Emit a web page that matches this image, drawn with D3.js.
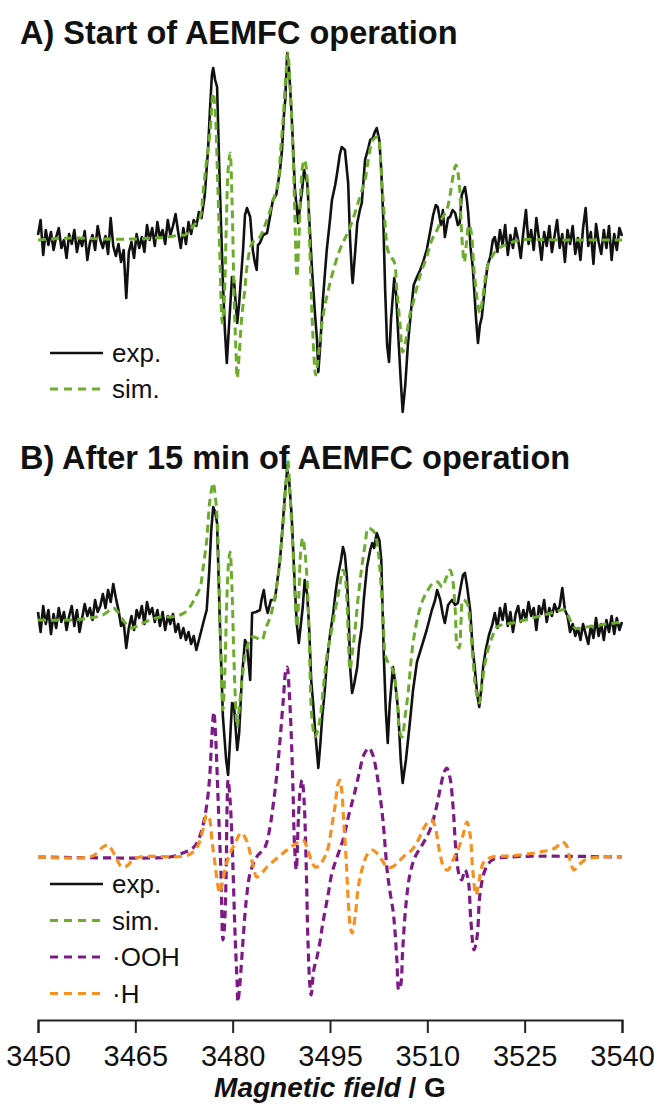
<!DOCTYPE html>
<html><head><meta charset="utf-8">
<script src="https://cdn.jsdelivr.net/npm/d3@7"></script>
<style>body{margin:0;background:#fff}svg{display:block}</style>
</head><body><svg id="c" width="654" height="1104"></svg>
<script>
// ---- data (field in G, intensity in arbitrary units) ----
const tickValues = [3450, 3465, 3480, 3495, 3510, 3525, 3540];
const titles = ["A) Start of AEMFC operation", "B) After 15 min of AEMFC operation"];
const legendA = ["exp.", "sim."];
const legendB = ["exp.", "sim.", "\u00B7OOH", "\u00B7H"];

const expA = [[3450.0,5],[3450.4,20],[3450.8,-15],[3451.2,10],[3451.6,-5],[3452.0,8],[3452.4,-10],[3452.8,3],[3453.2,12],[3453.6,-8],[3454.0,0],[3454.4,-18],[3454.8,6],[3455.2,-4],[3455.6,10],[3456.0,-12],[3456.4,2],[3456.8,-6],[3457.2,9],[3457.6,-20],[3458.0,-3],[3458.4,5],[3458.8,-10],[3459.2,14],[3459.6,0],[3460.0,-8],[3460.4,4],[3460.8,-14],[3461.2,22],[3461.6,-6],[3462.0,-16],[3462.4,-4],[3462.8,-22],[3463.2,-10],[3463.6,-58],[3464.0,-12],[3464.4,-2],[3464.8,-18],[3465.2,6],[3465.6,-8],[3466.0,3],[3466.4,-12],[3466.8,15],[3467.2,0],[3467.6,12],[3468.0,-6],[3468.4,18],[3468.8,2],[3469.2,10],[3469.6,-4],[3470.0,20],[3470.4,5],[3470.8,14],[3471.2,26],[3471.6,8],[3472.0,-8],[3472.4,12],[3472.8,-4],[3473.2,18],[3473.6,6],[3474.0,20],[3474.4,14],[3474.8,28],[3475.2,22],
[3475.7,45],[3476.2,90],[3476.5,130],[3476.8,165],[3477.0,172],[3477.3,160],[3477.6,153],[3478.0,57],[3478.5,-43],[3478.8,-90],[3479.1,-123],[3479.4,-90],[3479.9,-37],[3480.2,-40],[3480.7,-83],[3481.0,-63],[3481.6,-10],[3481.9,25],[3482.2,32],[3482.7,23],[3483.1,-10],[3483.4,-22],[3483.7,-30],[3483.9,-5],[3484.2,-3],[3484.7,5],[3485.3,7],[3485.8,25],[3486.2,40],[3486.7,45],[3487.0,57],[3487.3,70],[3487.6,90],[3487.9,125],[3488.1,140],[3488.4,187],[3488.7,170],[3489.1,123],[3489.6,50],[3490.1,17],[3490.4,35],[3490.7,50],[3491.0,70],[3491.5,57],[3491.9,10],[3492.2,-27],[3492.7,-75],[3493.0,-100],[3493.2,-132],[3493.5,-105],[3493.9,-60],[3494.5,-10],[3495.0,20],[3495.3,40],[3495.8,55],[3496.1,67],[3496.5,85],[3496.8,93],[3497.3,90],[3497.8,57],[3498.1,0],[3498.4,-37],[3498.5,-43],[3498.9,-10],[3499.2,17],[3499.6,30],[3499.9,37],[3500.4,80],[3500.9,92],[3501.2,100],[3501.6,102],[3501.9,108],[3502.2,112],[3502.6,100],[3502.9,70],[3503.2,23],[3503.5,-50],[3503.8,-105],[3504.1,-122],[3504.4,-80],[3504.9,-38],[3505.2,-55],[3505.5,-93],[3505.9,-140],[3506.2,-172],[3506.6,-145],[3507.0,-105],[3507.5,-70],[3507.9,-45],[3508.4,-37],[3508.9,-30],[3509.3,-23],[3509.9,-10],[3510.4,7],[3510.9,25],[3511.3,35],[3511.6,33],[3512.1,15],[3512.4,30],[3512.7,3],[3513.2,22],[3513.5,23],[3513.9,30],[3514.3,27],[3514.7,15],[3515.0,17],[3515.3,45],[3515.8,53],[3516.1,40],[3516.3,27],[3516.7,-10],[3517.0,-27],[3517.5,-78],[3517.8,-103],[3518.1,-85],[3518.4,-77],[3518.9,-45],[3519.3,-25],[3519.7,-17],[3520.1,0],[3520.4,3],
[3520.8,-12],[3521.2,10],[3521.6,-5],[3522.0,15],[3522.4,-15],[3522.8,5],[3523.2,-8],[3523.6,12],[3524.0,0],[3524.4,-18],[3524.8,8],[3525.2,30],[3525.6,-4],[3526.0,10],[3526.4,-10],[3526.8,22],[3527.2,2],[3527.6,-20],[3528.0,8],[3528.4,-6],[3528.8,14],[3529.2,-12],[3529.6,4],[3530.0,20],[3530.4,-8],[3530.8,6],[3531.2,-22],[3531.6,10],[3532.0,-4],[3532.4,14],[3532.8,-14],[3533.2,2],[3533.6,-20],[3534.0,12],[3534.4,32],[3534.8,-6],[3535.2,8],[3535.6,-24],[3536.0,16],[3536.4,-2],[3536.8,-14],[3537.2,10],[3537.6,-8],[3538.0,14],[3538.4,-20],[3538.8,6],[3539.2,-10],[3539.6,12],[3540.0,4]];

const simA = [[3450.0,0],[3455,2],[3460,1],[3465,1],[3468,2],[3470,3],[3471.9,5],[3472.7,5],[3473.4,10],[3474.2,16],[3475.0,23],[3475.4,45],[3475.9,75],[3476.5,107],[3477.0,147],[3477.3,130],[3477.7,57],[3478.0,-10],[3478.4,-83],[3478.7,-60],[3479.0,10],[3479.3,70],[3479.6,87],[3479.9,40],[3480.2,-50],[3480.5,-110],[3480.7,-138],[3481.0,-115],[3481.4,-77],[3481.9,-48],[3482.2,-27],[3483.0,-3],[3483.6,0],[3484.2,3],[3485.0,15],[3485.8,30],[3486.5,45],[3487.0,57],[3487.4,90],[3487.8,123],[3488.2,165],[3488.5,187],[3488.8,160],[3489.3,90],[3489.6,20],[3489.9,-37],[3490.2,0],[3490.5,50],[3490.8,75],[3491.1,80],[3491.5,60],[3491.8,10],[3492.1,-50],[3492.4,-100],[3492.8,-135],[3493.3,-110],[3493.9,-77],[3495.0,-43],[3496.5,-10],[3498.1,13],[3499.6,43],[3500.4,60],[3500.9,80],[3501.6,100],[3502.4,103],[3502.7,90],[3503.0,57],[3503.5,15],[3503.9,-10],[3504.4,-17],[3504.9,-22],[3505.3,-50],[3505.8,-85],[3506.2,-112],[3506.7,-100],[3507.3,-75],[3507.8,-63],[3508.9,-35],[3509.9,-17],[3510.7,0],[3511.5,10],[3512.3,22],[3513.0,30],[3513.5,45],[3514.0,65],[3514.4,75],[3514.7,68],[3515.0,50],[3515.3,5],[3515.7,-22],[3516.0,-5],[3516.4,15],[3516.7,10],[3517.2,-30],[3517.7,-60],[3518.1,-73],[3518.6,-55],[3519.2,-28],[3519.7,-20],[3520.7,-10],[3522.0,-5],[3524.3,0],[3530,0],[3540,0]];

const expB = [[3450.0,8],[3450.4,-12],[3450.8,14],[3451.2,-4],[3451.6,10],[3452.0,-14],[3452.4,6],[3452.8,-8],[3453.2,12],[3453.6,-2],[3454.0,8],[3454.4,-10],[3454.8,4],[3455.2,14],[3455.6,-6],[3456.0,10],[3456.4,-12],[3456.8,2],[3457.2,16],[3457.6,4],[3458.0,12],[3458.4,0],[3458.8,20],[3459.2,8],[3459.6,14],[3460.0,26],[3460.4,12],[3460.8,30],[3461.2,18],[3461.6,36],[3462.0,22],[3462.4,10],[3462.8,-6],[3463.2,-2],[3463.6,-28],[3464.0,-8],[3464.4,4],[3464.8,-10],[3465.2,10],[3465.6,2],[3466.0,14],[3466.4,-4],[3466.8,18],[3467.2,6],[3467.6,12],[3468.0,-2],[3468.4,10],[3468.8,-6],[3469.2,8],[3469.6,-10],[3470.0,4],[3470.4,-4],[3470.8,6],[3471.2,-12],[3471.6,-4],[3472.0,-18],[3472.4,-8],[3472.8,-20],[3473.2,-12],[3473.6,-24],[3474.0,-16],[3474.4,-30],[3474.8,-20],
[3475.7,3],[3476.0,10],[3476.4,50],[3476.7,90],[3477.0,113],[3477.3,108],[3477.6,97],[3478.0,3],[3478.5,-97],[3479.0,-140],[3479.3,-155],[3479.6,-120],[3479.9,-83],[3480.2,-85],[3480.7,-130],[3481.0,-113],[3481.4,-60],[3481.9,-20],[3482.2,-25],[3482.7,-60],[3483.0,7],[3483.6,8],[3484.2,10],[3484.5,22],[3484.8,30],[3485.1,15],[3485.4,7],[3485.9,20],[3486.5,20],[3487.0,45],[3487.3,60],[3487.8,103],[3488.1,130],[3488.4,150],[3488.7,140],[3489.1,103],[3489.6,30],[3489.9,-5],[3490.2,-23],[3490.5,-5],[3490.8,13],[3491.1,40],[3491.5,25],[3491.8,-10],[3492.1,-60],[3492.4,-83],[3492.7,-110],[3493.2,-148],[3493.5,-125],[3493.8,-97],[3494.2,-70],[3494.5,-43],[3495.0,-15],[3495.5,7],[3495.9,30],[3496.2,43],[3496.7,60],[3497.0,73],[3497.3,65],[3497.6,43],[3497.9,0],[3498.1,-47],[3498.4,-73],[3498.7,-65],[3499.2,-47],[3499.5,-25],[3499.9,-7],[3500.2,20],[3500.7,53],[3501.2,70],[3501.5,77],[3501.8,72],[3502.2,87],[3502.6,80],[3502.9,60],[3503.3,-37],[3503.6,-90],[3503.9,-123],[3504.2,-85],[3504.7,-47],[3505.0,-60],[3505.5,-90],[3505.9,-140],[3506.2,-163],[3506.7,-140],[3507.3,-103],[3507.8,-70],[3508.4,-42],[3509.2,-25],[3509.9,-10],[3510.7,10],[3511.2,20],[3511.5,30],[3512.0,20],[3512.4,5],[3512.7,-3],[3513.2,15],[3513.8,20],[3514.3,15],[3514.7,17],[3515.2,35],[3515.5,45],[3515.8,47],[3516.1,35],[3516.6,10],[3517.0,-30],[3517.3,-47],[3517.7,-75],[3518.0,-87],[3518.3,-70],[3518.6,-47],[3519.0,-30],[3519.5,-15],[3520.0,-5],[3520.4,7],
[3520.8,-8],[3521.2,12],[3521.6,0],[3522.0,16],[3522.4,-6],[3522.8,8],[3523.2,-12],[3523.6,6],[3524.0,14],[3524.4,-2],[3524.8,10],[3525.2,0],[3525.6,18],[3526.0,4],[3526.4,12],[3526.8,-10],[3527.2,14],[3527.6,6],[3528.0,20],[3528.4,-2],[3528.8,12],[3529.2,4],[3529.6,16],[3530.0,8],[3530.4,14],[3530.8,32],[3531.2,10],[3531.6,4],[3532.0,-12],[3532.4,-4],[3532.8,-16],[3533.2,-8],[3533.6,-20],[3534.0,-4],[3534.4,-14],[3534.8,-24],[3535.2,-6],[3535.6,-18],[3536.0,2],[3536.4,-16],[3536.8,-4],[3537.2,-20],[3537.6,0],[3538.0,-12],[3538.4,4],[3538.8,-14],[3539.2,2],[3539.6,-10],[3540.0,-2]];

const simB = [[3450.0,0],[3455,0],[3458,2],[3460,5],[3461.1,10],[3461.6,12],[3462.3,8],[3463.3,-2],[3464.2,-8],[3465.3,-6],[3466.2,-3],[3467.3,0],[3468.8,3],[3470.3,3],[3471.4,4],[3472.5,7],[3473.4,13],[3474.2,22],[3475.0,33],[3475.4,50],[3476.0,80],[3476.5,120],[3477.0,137],[3477.3,125],[3477.6,103],[3477.9,40],[3478.2,-40],[3478.5,-90],[3478.8,-50],[3479.1,20],[3479.4,60],[3479.6,68],[3479.9,30],[3480.2,-40],[3480.5,-90],[3480.7,-107],[3481.0,-90],[3481.4,-63],[3482.2,-27],[3483.0,-17],[3483.7,-18],[3484.5,-20],[3485.1,-8],[3485.8,3],[3486.4,20],[3487.0,43],[3487.4,70],[3487.8,97],[3488.2,135],[3488.5,160],[3488.8,130],[3489.3,70],[3489.6,25],[3489.9,-7],[3490.2,25],[3490.5,70],[3490.8,82],[3491.1,70],[3491.5,37],[3491.8,-20],[3492.2,-97],[3492.7,-117],[3493.2,-108],[3493.5,-97],[3494.1,-60],[3494.5,-37],[3495.2,-12],[3495.8,10],[3496.4,30],[3497.0,50],[3497.3,45],[3497.6,20],[3498.1,-50],[3498.4,-35],[3498.9,-7],[3499.3,20],[3499.9,53],[3500.4,75],[3500.9,92],[3501.5,90],[3501.9,87],[3502.4,70],[3502.7,50],[3503.2,0],[3503.6,-37],[3504.2,-45],[3504.7,-50],[3505.2,-70],[3505.8,-113],[3506.1,-117],[3506.6,-95],[3507.0,-75],[3507.8,-23],[3508.6,5],[3509.3,20],[3510.1,30],[3510.9,37],[3511.6,38],[3512.3,33],[3512.9,42],[3513.5,50],[3513.8,45],[3514.3,10],[3514.6,-25],[3514.9,-28],[3515.2,0],[3515.5,20],[3516.1,17],[3516.6,-5],[3517.0,-37],[3517.5,-70],[3518.0,-83],[3518.4,-65],[3519.2,-33],[3520.0,-17],[3520.7,-7],[3522.0,-4],[3523.2,-3],[3525.0,0],[3527.4,4],[3529.7,8],[3531.2,10],[3532.0,0],[3532.8,-8],[3534.6,-7],[3536.6,-5],[3540.0,-2]];

const oohB = [[3450,0],[3467.3,-1],[3470.3,0],[3472.3,4],[3473.7,8],[3474.5,14],[3475.1,24],[3475.7,40],[3476.2,62],[3476.5,84],[3476.8,122],[3477.1,145],[3477.4,117],[3477.7,67],[3478.0,17],[3478.2,-16],[3478.5,-83],[3478.7,-73],[3479.0,-16],[3479.1,37],[3479.3,77],[3479.6,57],[3479.9,17],[3480.4,-83],[3480.7,-128],[3480.8,-145],[3481.1,-128],[3481.6,-83],[3482.1,-43],[3482.7,-16],[3483.7,0],[3485.0,10],[3485.8,32],[3486.2,50],[3486.8,82],[3487.3,117],[3487.8,157],[3488.2,187],[3488.4,190],[3488.7,167],[3489.0,127],[3489.3,67],[3489.5,17],[3489.8,-13],[3490.1,34],[3490.4,67],[3490.7,77],[3491.0,57],[3491.3,0],[3491.6,-83],[3491.9,-128],[3492.1,-138],[3492.5,-113],[3493.0,-100],[3493.5,-83],[3493.9,-66],[3494.7,-38],[3495.3,-16],[3496.1,0],[3497.0,17],[3497.9,42],[3498.9,67],[3499.6,87],[3500.2,102],[3501.0,109],[3501.6,102],[3502.2,84],[3502.7,62],[3503.2,34],[3503.8,-13],[3504.2,-33],[3504.7,-53],[3505.0,-73],[3505.3,-103],[3505.6,-133],[3505.9,-128],[3506.2,-93],[3506.7,-48],[3507.3,-18],[3508.1,0],[3509.2,12],[3510.4,27],[3511.3,47],[3512.1,72],[3512.6,85],[3513.0,89],[3513.5,79],[3514.0,47],[3514.4,7],[3514.9,-18],[3515.3,-23],[3515.8,-13],[3516.3,-23],[3516.7,-63],[3517.2,-93],[3517.7,-78],[3518.1,-38],[3518.9,-13],[3520.0,-3],[3522.7,0],[3540,0]];

const hB = [[3450,0],[3458.0,0],[3459.1,4],[3460.0,10],[3460.8,12],[3461.4,7],[3462.2,-3],[3462.9,-10],[3463.7,-9],[3464.6,-3],[3465.7,0],[3472.7,1],[3473.9,5],[3474.7,12],[3475.4,27],[3476.0,42],[3476.4,39],[3476.8,17],[3477.3,-8],[3477.7,-28],[3478.0,-36],[3478.5,-23],[3479.0,-8],[3479.6,4],[3480.4,14],[3481.0,22],[3481.4,24],[3482.1,17],[3482.7,4],[3483.3,-13],[3483.7,-20],[3484.5,-16],[3485.3,-10],[3486.5,-3],[3487.8,4],[3488.8,9],[3489.9,14],[3490.8,17],[3491.5,9],[3492.1,-3],[3492.7,-10],[3493.3,-9],[3494.1,-1],[3494.7,9],[3495.3,32],[3495.8,52],[3496.2,72],[3496.5,77],[3496.8,67],[3497.1,37],[3497.5,-3],[3497.8,-43],[3498.1,-68],[3498.4,-76],[3498.9,-58],[3499.3,-33],[3499.9,-13],[3500.7,2],[3501.5,7],[3502.2,4],[3503.0,-3],[3503.8,-10],[3504.6,-10],[3505.5,-5],[3506.6,2],[3507.6,7],[3508.6,17],[3509.3,27],[3510.1,35],[3510.7,37],[3511.3,27],[3511.9,5],[3512.6,-11],[3513.2,-13],[3513.8,-5],[3514.7,7],[3515.5,22],[3516.1,35],[3516.6,22],[3517.0,-13],[3517.5,-38],[3518.0,-23],[3518.7,-5],[3520.0,0],[3522.7,1],[3527.4,5],[3529.7,9],[3530.8,15],[3531.4,12],[3532.0,-3],[3532.6,-13],[3533.2,-9],[3534.3,-3],[3536.6,0],[3540,0]];

const componentOffset = -237;

// ---- drawing ----
const svg = d3.select("#c");
const font = "'Liberation Sans', Arial, Helvetica, sans-serif";
const C = {exp:"#111111", sim:"#6cab2c", ooh:"#7d1a86", h:"#f7901e"};

const x = d3.scaleLinear().domain([3450, 3540]).range([38, 622]);
const yA = d3.scaleLinear().domain([-200, 200]).range([440, 40]);
const yB = d3.scaleLinear().domain([-400, 200]).range([1020, 420]);

function draw(data, y, off, color, dashed, width, smooth){
  const line = d3.line().x(d => x(d[0])).y(d => y(d[1] + off));
  if (smooth) line.curve(d3.curveCatmullRom.alpha(0.5));
  svg.append("path").datum(data).attr("d", line)
    .attr("fill","none").attr("stroke",color).attr("stroke-width",width)
    .attr("stroke-linejoin","round")
    .attr("stroke-dasharray", dashed ? "8,5" : null);
}

// Panel A
draw(expA, yA, 0, C.exp, false, 2.6, false);
draw(simA, yA, 0, C.sim, true, 3, true);
// Panel B
draw(oohB, yB, componentOffset, C.ooh, true, 3.2, true);
draw(hB, yB, componentOffset, C.h, true, 3.2, true);
draw(expB, yB, 0, C.exp, false, 2.6, false);
draw(simB, yB, 0, C.sim, true, 3, true);

// Titles
svg.append("text").attr("x",20).attr("y",44).text(titles[0])
  .attr("font-family",font).attr("font-weight","bold").attr("font-size",32.5).attr("fill","#111");
svg.append("text").attr("x",20).attr("y",469).text(titles[1])
  .attr("font-family",font).attr("font-weight","bold").attr("font-size",32.5).attr("fill","#111");

// Legends
function legend(items, colors, dashes, y0, step){
  items.forEach((t,i) => {
    const yy = y0 + i*step;
    svg.append("line").attr("x1",50).attr("x2",103).attr("y1",yy).attr("y2",yy)
      .attr("stroke",colors[i]).attr("stroke-width",dashes[i]?3.2:2.6)
      .attr("stroke-dasharray",dashes[i]?"8,6":null);
    svg.append("text").attr("x",112).attr("y",yy).attr("dy","0.35em").text(t)
      .attr("font-family",font).attr("font-size",26).attr("fill","#111");
  });
}
legend(legendA, [C.exp, C.sim], [false,true], 353, 36);
legend(legendB, [C.exp, C.sim, C.ooh, C.h], [false,true,true,true], 884, 36.5);

// Axis
const ax = svg.append("g").attr("transform","translate(0,1020)")
  .call(d3.axisBottom(x).tickValues(tickValues).tickFormat(d3.format("d"))
    .tickSize(13).tickSizeOuter(13).tickPadding(12));
ax.select(".domain").attr("stroke","#222").attr("stroke-width",2);
ax.selectAll(".tick line").attr("stroke","#222").attr("stroke-width",2);
ax.selectAll(".tick text").attr("font-family",font).attr("font-size",29).attr("fill","#111");

const t = svg.append("text").attr("x",330).attr("y",1097).attr("text-anchor","middle")
  .attr("font-family",font).attr("font-size",28).attr("font-weight","bold").attr("fill","#111");
t.append("tspan").attr("font-style","italic").text("Magnetic field");
t.append("tspan").text(" / G");
</script>
</body></html>
